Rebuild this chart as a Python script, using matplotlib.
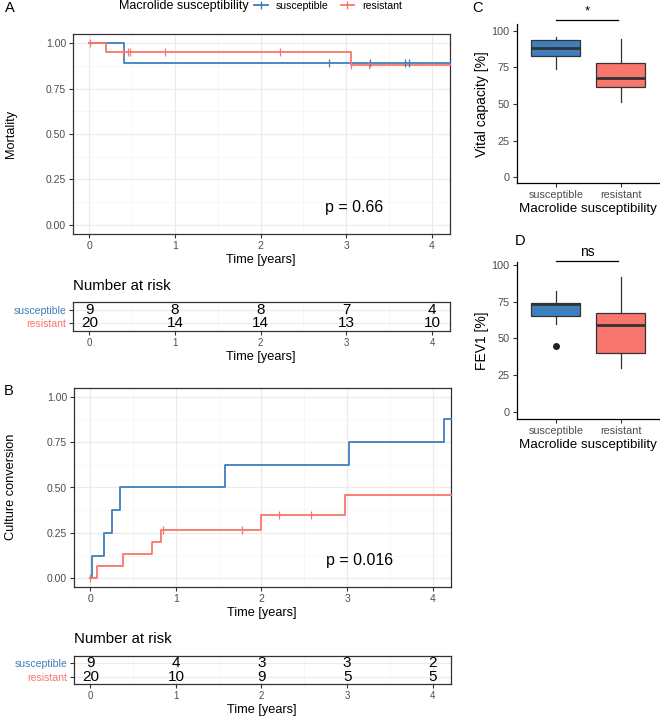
import matplotlib
matplotlib.use("Agg")
import matplotlib.pyplot as plt
from matplotlib.lines import Line2D
import numpy as np

plt.rcParams['font.family'] = ['Liberation Sans', 'DejaVu Sans']

# ---------------- data ----------------
blue = "#3F7FBF"
red = "#F8766D"
groups = ["susceptible", "resistant"]

# A: mortality (survival-type curve)
a_sus_t = [0, 0.40]
a_sus_s = [1.0, 0.889]
a_sus_cens = [2.80, 3.28, 3.68, 3.73]
a_res_t = [0, 0.20, 3.05]
a_res_s = [1.0, 0.95, 0.877]
a_res_cens = [0.01, 0.39, 0.455, 0.47, 0.88, 2.23, 3.06, 3.27]

# B: culture conversion
b_sus_t = [0, 0.02, 0.16, 0.255, 0.35, 1.57, 3.02, 4.13]
b_sus_s = [0, 0.125, 0.25, 0.375, 0.5, 0.625, 0.75, 0.875]
b_sus_cens = []
b_res_t = [0, 0.075, 0.38, 0.72, 0.83, 2.0, 2.97]
b_res_s = [0, 0.067, 0.133, 0.2, 0.267, 0.347, 0.457]
b_res_cens = [0.0, 0.85, 1.77, 2.21, 2.58]

risk_times = [0, 1, 2, 3, 4]
a_risk_sus = [9, 8, 8, 7, 4]
a_risk_res = [20, 14, 14, 13, 10]
b_risk_sus = [9, 4, 3, 3, 2]
b_risk_res = [20, 10, 9, 5, 5]

# C / D box stats: whislo, q1, med, q3, whishi
vc_sus = [73.9, 83.0, 88.0, 93.7, 95.9]
vc_res = [51.2, 61.4, 67.6, 77.8, 94.1]
fev_sus = [59.8, 65.3, 73.2, 74.1, 82.5]
fev_sus_out = [45.0]
fev_res = [30.0, 40.3, 59.1, 67.1, 91.6]

# ---------------- layout helpers ----------------
W, H = 660, 718
fig = plt.figure(figsize=(W / 100, H / 100), dpi=100)


def rect(l, t, r, b):
    return [l / W, 1 - b / H, (r - l) / W, (b - t) / H]


def ftext(x, y, s, **kw):
    fig.text(x / W, 1 - y / H, s, **kw)


grey = "#4D4D4D"
XLIM = (-0.19, 4.21)


def bw_theme(ax):
    for sp in ax.spines.values():
        sp.set_color("#333333")
        sp.set_linewidth(0.9)
    ax.set_axisbelow(True)
    ax.grid(which="major", color="#EBEBEB", lw=0.9)
    ax.grid(which="minor", color="#F4F4F4", lw=0.5)
    ax.tick_params(which="major", length=3, color="#333333", labelcolor=grey, labelsize=7.5, pad=2)
    ax.tick_params(which="minor", length=0)


def step_curve(ax, t, s, cens, color):
    tt = list(t) + [XLIM[1]]
    ss = list(s) + [s[-1]]
    ax.step(tt, ss, where="post", color=color, lw=1.3, clip_on=False, zorder=3)
    if cens:
        idx = np.searchsorted(t, cens, side="right") - 1
        cy = np.array(s)[idx]
        ax.plot(cens, cy, ls="none", marker="|", ms=6, mew=0.9, color=color, zorder=4)


def km_panel(box, curves, ptext, pxy):
    ax = fig.add_axes(rect(*box))
    for t, s, c, col in curves:
        step_curve(ax, t, s, c, col)
    ax.set_xlim(*XLIM)
    ax.set_ylim(-0.05, 1.05)
    ax.set_xticks([0, 1, 2, 3, 4])
    ax.set_xticks([0.5, 1.5, 2.5, 3.5], minor=True)
    ax.set_yticks([0, 0.25, 0.5, 0.75, 1.0])
    ax.set_yticklabels(["0.00", "0.25", "0.50", "0.75", "1.00"])
    ax.set_yticks([0.125, 0.375, 0.625, 0.875], minor=True)
    bw_theme(ax)
    ax.text(pxy[0], pxy[1], ptext, ha="center", va="center", fontsize=11.5)
    return ax


def risk_panel(box, sus, res):
    ax = fig.add_axes(rect(*box))
    ax.set_xlim(*XLIM)
    ax.set_ylim(-0.55, 1.55)
    ax.set_xticks([0, 1, 2, 3, 4])
    ax.set_xticks([0.5, 1.5, 2.5, 3.5], minor=True)
    ax.set_yticks([0, 1])
    ax.set_yticklabels(["resistant", "susceptible"])
    bw_theme(ax)
    ax.tick_params(axis="x", labelsize=7)
    ax.tick_params(axis="y", labelsize=7.6)
    ax.get_yticklabels()[0].set_color(red)
    ax.get_yticklabels()[1].set_color(blue)
    for t, n1, n2 in zip(risk_times, sus, res):
        ax.text(t, 1, str(n1), ha="center", va="center", fontsize=11)
        ax.text(t, 0, str(n2), ha="center", va="center", fontsize=11)
    return ax


# ---------------- A ----------------
km_panel((73, 34, 450, 234),
         [(a_sus_t, a_sus_s, a_sus_cens, blue), (a_res_t, a_res_s, a_res_cens, red)],
         "p = 0.66", (3.09, 0.095))
ftext(261, 260, "Time [years]", ha="center", va="center", fontsize=9.2)
ftext(11, 134, "Mortality", ha="center", va="center", rotation=90, fontsize=9.2)
risk_panel((73, 302.3, 450, 330.7), a_risk_sus, a_risk_res)
ftext(73, 286, "Number at risk", ha="left", va="center", fontsize=10.8)
ftext(261, 356.7, "Time [years]", ha="center", va="center", fontsize=9.2)

# legend at top
ftext(119, 6, "Macrolide susceptibility", ha="left", va="center", fontsize=9.0)
handles = [Line2D([], [], color=blue, lw=1.3, marker="|", ms=6),
           Line2D([], [], color=red, lw=1.3, marker="|", ms=6)]
fig.legend(handles, groups, loc="center left", bbox_to_anchor=(254 / W, 1 - 6 / H), ncol=2,
           frameon=False, fontsize=7.6, handlelength=1.3, handletextpad=0.8, columnspacing=1.1,
           borderaxespad=0, borderpad=0)

# ---------------- B ----------------
km_panel((74, 387.7, 450.7, 587.3),
         [(b_sus_t, b_sus_s, b_sus_cens, blue), (b_res_t, b_res_s, b_res_cens, red)],
         "p = 0.016", (3.15, 0.095))
ftext(262, 612.7, "Time [years]", ha="center", va="center", fontsize=9.2)
ftext(11, 487, "Culture conversion", ha="center", va="center", rotation=90, fontsize=9.2)
risk_panel((74, 655.7, 450.7, 684), b_risk_sus, b_risk_res)
ftext(74, 639, "Number at risk", ha="left", va="center", fontsize=10.8)
ftext(262, 710, "Time [years]", ha="center", va="center", fontsize=9.2)


# ---------------- C / D ----------------
def box_panel(box, s1, s2, fl1, ylim, ylabel, star, bar_y, star_y):
    ax = fig.add_axes(rect(*box))
    stats = []
    for s, fl in ((s1, fl1), (s2, [])):
        stats.append(dict(whislo=s[0], q1=s[1], med=s[2], q3=s[3], whishi=s[4], fliers=fl))
    bp = ax.bxp(stats, positions=[1, 2], widths=0.75, patch_artist=True, showcaps=False,
                boxprops=dict(edgecolor="#333333", lw=0.9),
                medianprops=dict(color="#333333", lw=2),
                whiskerprops=dict(color="#333333", lw=0.9),
                flierprops=dict(marker="o", markerfacecolor="#222222", markeredgecolor="#222222", ms=4))
    for patch, col in zip(bp["boxes"], [blue, red]):
        patch.set_facecolor(col)
    ax.set_xlim(0.4, 2.6)
    ax.set_ylim(*ylim)
    ax.set_yticks([0, 25, 50, 75, 100])
    ax.set_xticks([1, 2])
    ax.set_xticklabels(groups)
    for sp in ("top", "right"):
        ax.spines[sp].set_visible(False)
    for sp in ("left", "bottom"):
        ax.spines[sp].set_linewidth(0.9)
    ax.tick_params(length=3, color="#333333", labelcolor=grey, labelsize=7.8, pad=2)
    ax.set_xlabel("Macrolide susceptibility", fontsize=9.6, labelpad=2)
    ax.set_ylabel(ylabel, fontsize=10, labelpad=2)
    ax.plot([1.01, 1.96], [bar_y, bar_y], color="black", lw=0.9, clip_on=False)
    ax.text(1.49, star_y, star, ha="center", va="center", fontsize=9.5 if star == "*" else 10)
    return ax


box_panel((516.7, 24, 660, 183.3), vc_sus, vc_res, [], (-4.1, 104.6), "Vital capacity [%]", "*", 107, 113)
box_panel((516.7, 261.7, 660, 419.3), fev_sus, fev_res, fev_sus_out, (-5.0, 102.2), "FEV1 [%]", "ns", 103, 108.5)

# panel letters
ftext(10, 8, "A", ha="center", va="center", fontsize=10.5)
ftext(9, 391, "B", ha="center", va="center", fontsize=10.5)
ftext(477, 8, "C", ha="center", va="center", fontsize=10.5)
ftext(520, 241, "D", ha="center", va="center", fontsize=10.5)

fig.savefig("out.png", dpi=100)
